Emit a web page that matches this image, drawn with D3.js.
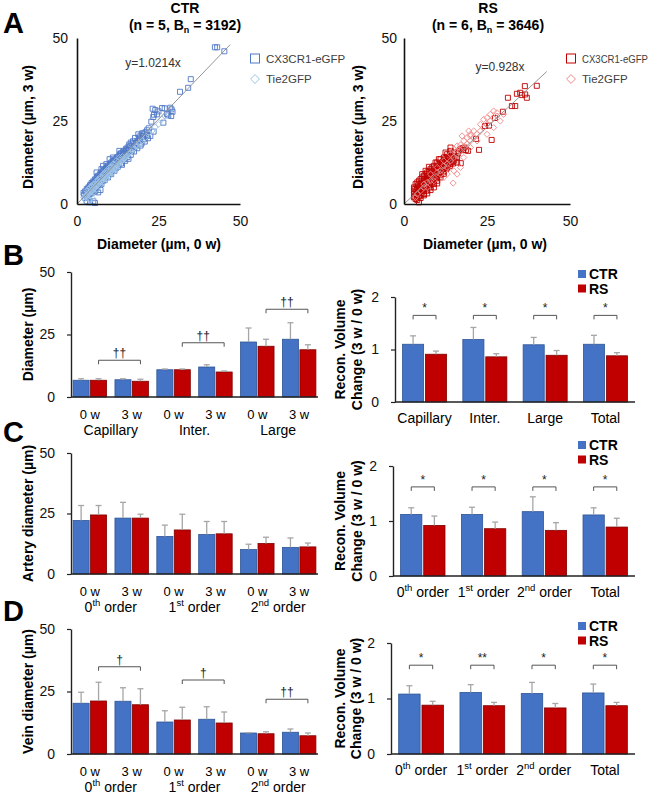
<!DOCTYPE html>
<html>
<head>
<meta charset="utf-8">
<script src="https://cdn.jsdelivr.net/npm/d3@7"></script>
<style>
  body { margin: 0; background: #fff; }
  svg { display: block; font-family: Arial, "Liberation Sans", sans-serif; }
</style>
</head>
<body>
<svg width="660" height="797"></svg>
<script>
// ---- data: panel A scatter, diameter [0 w, 3 w] in µm ----
const ctrCx3cr1 = [
  [42.3,47.2],[43.0,47.2],[45.2,46.0],[34.9,37.6],[34.1,35.0],[31.6,33.8],
  [23.2,28.7],[24.0,28.3],[25.0,27.9],[26.1,28.9],[26.9,28.8],[28.6,29.0],[29.0,28.5],[27.6,27.1],
  [28.0,26.7],[28.9,26.5],[29.3,27.8],[24.5,27.0],[23.6,26.9],[26.5,24.5],[22.8,24.8],[23.4,26.2],
  [22.0,22.8],[21.0,21.6],[20.0,21.3],[19.5,20.6],[18.8,21.0],[17.8,19.9],[17.2,18.9],[16.5,18.5],
  [16.0,17.9],[18.5,19.0],[20.5,19.5],[21.5,20.7],[19.8,18.2],[17.5,17.0],[15.5,17.0],[15.0,16.6],
  [14.5,16.0],[14.0,15.4],[13.5,15.3],[13.0,14.6],[16.8,16.0],[18.0,17.6],[22.5,20.5],[23.5,21.8],
  [12.5,14.2],[12.0,13.5],[11.5,13.4],[11.0,12.8],[10.5,12.5],[10.0,11.8],[9.5,11.5],[9.0,10.8],
  [8.5,10.4],[8.0,9.8],[7.5,9.5],[7.0,8.8],[6.5,8.5],[6.0,7.8],[5.5,7.4],[5.0,6.8],[4.5,6.3],
  [4.0,5.6],[3.5,5.0],[3.0,4.5],[2.5,3.8],[2.0,3.3],[12.8,12.0],[11.8,11.2],[10.8,10.2],[9.8,9.5],
  [8.8,8.3],[7.8,7.5],[6.8,6.2],[5.8,5.2],[4.8,4.5],[13.5,12.2],[14.5,13.5],[15.5,14.2],[16.5,14.8],
  [12.0,10.8],[10.0,9.0],[8.0,7.0],[7.0,5.8],[6.0,4.8],[5.5,3.8],[6.5,3.5],[7.2,4.2],[4.0,3.0],
  [3.0,2.5],[2.5,1.8],[3.0,0.8],[4.0,0.5],[5.0,0.8],[5.5,0.3],[9.0,12.0],[7.5,10.5],[6.0,9.5],
  [8.0,11.5],[11.0,14.0],[13.0,16.0],[10.0,13.5],
  [2.2,2.8],[2.8,3.6],[3.2,4.2],[3.8,4.9],[4.2,5.8],[4.8,6.0],[5.2,6.6],[5.8,7.2],[6.2,8.2],[6.8,8.0],
  [7.2,9.2],[7.8,9.0],[8.2,10.2],[8.8,10.0],[9.2,11.2],[9.8,11.0],[10.2,12.2],[10.8,12.0],[11.2,13.0],
  [11.8,12.6],[12.2,14.0],[12.8,13.4],[13.2,15.0],[13.8,14.6],[14.2,15.8],[14.8,15.2],[15.2,16.3],
  [15.8,16.2],[16.2,17.4],[17.0,18.2],[19.0,20.0],[20.2,20.5],[3.5,2.2],[4.5,3.3],[5.2,4.0],[6.2,5.5],
  [7.5,6.0],[8.5,7.2],[9.5,8.0],[10.5,9.0],[11.5,10.0],[12.5,11.2],[13.8,11.8],[14.8,13.0],[15.8,13.6],
  [17.5,15.8],[18.5,16.8],[19.5,17.6],[20.8,18.8],[21.8,19.8],[6.0,6.5],[7.0,7.2],[8.0,8.4],[9.0,9.2],
  [10.0,10.4],[11.0,11.4],[12.0,12.3],[13.0,13.3],[14.0,14.2],[15.0,15.4],[16.0,16.2],[18.0,18.4],
  [19.2,19.4],[20.5,21.2],[21.5,22.2]
];
const ctrTie2 = [
  [2,2],[2.5,2.2],[3,2.8],[3.5,3.0],[4,3.5],[4.5,4.0],[5,4.3],[5.5,5.0],[6,5.3],[6.5,5.8],[7,6.5],
  [7.5,6.8],[8,7.3],[8.5,7.8],[9,8.4],[9.5,8.7],[10,9.3],[10.5,9.8],[11,10.2],[11.5,10.6],[12,11.3],
  [12.5,11.8],[13,12.2],[13.5,12.8],[14,13.4],[14.5,13.6],[15,14.3],[15.5,14.8],[16,15.4],[17,16.5],
  [18,17.5],[19,18.2],[20,19.0],[21,20.0],[22,21.5],[23,22.0],[24,23.2],[25,24.0],[26,25.5],[27,26.5],
  [3,4],[4,5],[5,6],[6,7],[7,8],[8,9],[9,10],[10,11],[11,12],[12,13],[13,14],[4,2.5],[5,3.5],
  [6,4.5],[7,5.5],[8,6.5],[9,7.5],[10,8.5],[11,9.5],[12,10.5],[3.5,3.8],[5.5,6],[7.5,8],[9.5,10],
  [11.5,12],[4.5,5.2],[6.5,7.2],[8.5,9.2],[10.5,11.2],[4,1],[3,0.5],[5,1.5],
  [2.2,1.5],[2.8,2.3],[3.3,2.6],[3.8,3.2],[4.3,3.9],[4.8,4.2],[5.3,4.6],[5.8,5.4],[6.3,5.6],[6.8,6.2],
  [7.3,6.6],[7.8,7.1],[8.3,7.5],[8.8,8.2],[9.3,8.8],[9.8,9.0],[10.3,9.6],[10.8,10.4],[11.3,10.4],
  [11.8,11.0],[12.3,11.6],[12.8,12.0],[13.3,12.4],[13.8,13.0],[14.3,13.8],[14.8,14.0],[15.3,14.4],
  [15.8,15.2],[16.5,15.6],[17.5,16.8],[18.5,17.4],[19.5,18.6],[5,5.6],[6,6.4],[7,7.5],[8,8.3],[9,9.3],
  [10,10.3],[11,11.2],[12,12.2],[13,13.2],[14,14.3],[3.5,4.5],[4.5,5.5]
];
const rsCx3cr1 = [
  [36.4,35.5],[40.0,35.6],[34.0,33.2],[35.0,33.5],[35.5,32.8],[36.5,33.0],[37.0,32.0],[31.3,32.0],
  [32.5,29.5],[33.5,29.5],[29.8,27.8],[27.4,25.9],[24.4,23.5],[25.6,23.6],[26.4,19.3],[21.7,19.6],
  [22.6,16.3],[18.7,16.3],[19.3,16.0],[17.0,16.5],[17.6,16.8],[17.1,12.3],[16.5,16.0],
  [15,14.5],[14.5,13.5],[14,14],[13.5,12.5],[13,13],[12.5,12],[12,11],[11.5,12.5],[11,10.5],
  [10.5,11],[10,9.5],[9.5,10],[9,8.5],[8.5,9.5],[8,8],[7.5,7],[7,8],[6.5,6.5],[6,7],[5.5,5.5],
  [5,6],[4.5,4.5],[4,5],[3.5,3.5],[3,3],[4,2],[5,2.5],[3.5,1.5],[4.5,0.5],[6,4],[7,5],[8,6],[9,7],
  [10,8],[11,9],[12,10],[13,11],[14,12],[15,13],[5,7.5],[6,8.5],[7,9.5],[8,10.5],[9,11.5],[10,12.5],
  [11,13.5],[12,14],[13,15],[14,16],[4,6.5],[3,5],[3,4],[5,4],[6,5.5],[7,6],[8,7],[9,9],[10,10],
  [11,11],[12,12.5],[13,12],[6,3],[5,3.2],[4.5,2.5],[7,4],[8,5],[9,6],[10,7],[11,8],[12,9],[16,14],
  [15,15.5],[16,12.5],[3.5,6],[4.5,7],[5.5,8],[6.5,9],[7.5,10],[8.5,11],[9.5,12.5],[10.5,13.5],
  [12.5,15.5],[14,17],
  [3.2,2.2],[3.8,2.8],[4.2,3.6],[4.8,3.8],[5.2,4.6],[5.8,4.8],[6.2,5.8],[6.8,5.6],[7.2,6.6],[7.8,6.4],
  [8.2,7.4],[8.8,7.2],[9.2,8.2],[9.8,8.0],[10.2,9.0],[10.8,8.8],[11.2,9.8],[11.8,9.6],[12.2,10.8],
  [12.8,10.6],[13.2,11.8],[13.8,11.4],[14.2,12.6],[14.8,12.2],[3.2,4.6],[3.8,4.2],[4.2,5.6],[4.8,5.2],
  [5.2,6.4],[5.8,6.2],[6.2,7.4],[6.8,7.2],[7.2,8.4],[7.8,8.2],[8.2,9.2],[8.8,9.0],[9.2,10.4],[9.8,10.8],
  [10.2,11.6],[10.8,12.2],[11.2,11.8],[11.8,12.8],[12.2,13.2],[12.8,14.0],[13.2,14.2],[13.8,15.0],
  [3,2],[4,1.2],[5,1.8],[6,2.6],[7,3.2],[8,4.2],[9,5.0],[10,6.2],[5.5,9.0],[6.5,10.0],[7.5,11.2],
  [15.5,14.0],[16.2,15.2],[17.8,16.2],[18.2,17.0]
];
const rsTie2 = [
  [5,4],[6,5],[7,6.5],[8,7],[9,8],[10,9.5],[11,10],[12,11.5],[13,12],[14,13],[15,14],[16,15],[17,16],
  [18,17],[19,18],[20,19],[21,20],[22,21],[23,22],[24,23],[25,24],[26,25],[27,26],[28,26.5],[15,16.5],
  [16,17.5],[17,17.8],[18,19],[19,20],[20,21],[21,22],[17.5,20.5],[14,15],[19.5,22],[24,25.5],[14.8,6.3],
  [16,9],[15,10],[13,9],[12,8],[17,11],[18,14],[20,17],[22,19],[25,21],[27,23],[29,25],[28,27.5],
  [30,27],[23,24],[20,20.5],[6,6],[8,9],[10,11],[12,13],[4,3],[3.5,2],[7,5],[9,7],[11,9],[13,11],
  [26,27],[27,28],[25,26]
];
const ctrSlope = 1.0214;
const rsSlope = 0.928;

// ---- data: bar charts ----
const series = ["CTR", "RS"];
const weeks = ["0 w", "3 w"];
const vesselCats = ["Capillary", "Inter.", "Large"];
const orderCats = ["0th order", "1st order", "2nd order"];
const volVesselCats = ["Capillary", "Inter.", "Large", "Total"];
const volOrderCats = ["0th order", "1st order", "2nd order", "Total"];

// B: diameter, groups = cap 0w, cap 3w, inter 0w, inter 3w, large 0w, large 3w
const diamCtr = [6.7, 6.9, 10.9, 12.0, 22.0, 23.1];
const diamCtrSd = [0.6, 0.4, 0.3, 0.9, 5.6, 6.6];
const diamRs = [6.7, 6.3, 10.9, 10.0, 20.3, 18.9];
const diamRsSd = [0.6, 0.8, 0.3, 0.4, 2.8, 2.0];
const volBCtr = [1.10, 1.19, 1.09, 1.10];
const volBCtrSd = [0.16, 0.23, 0.14, 0.17];
const volBRs = [0.91, 0.86, 0.89, 0.88];
const volBRsSd = [0.06, 0.06, 0.09, 0.06];

// C: artery
const arteryCtr = [22.1, 23.1, 15.5, 16.3, 10.1, 11.0];
const arteryCtrSd = [6.2, 6.5, 4.7, 5.4, 2.2, 3.9];
const arteryRs = [24.4, 23.1, 18.2, 16.6, 12.6, 11.2];
const arteryRsSd = [3.9, 1.6, 6.5, 5.1, 2.6, 1.6];
const volCCtr = [1.12, 1.12, 1.17, 1.11];
const volCCtrSd = [0.12, 0.13, 0.27, 0.13];
const volCRs = [0.92, 0.86, 0.83, 0.89];
const volCRsSd = [0.17, 0.12, 0.14, 0.16];

// D: vein
const veinCtr = [20.3, 21.1, 12.8, 13.9, 8.4, 8.7];
const veinCtrSd = [4.4, 5.4, 4.5, 5.0, 0.1, 1.3];
const veinRs = [21.2, 19.7, 13.6, 12.4, 8.1, 7.3];
const veinRsSd = [7.5, 6.4, 5.1, 4.4, 0.8, 1.1];
const volDCtr = [1.08, 1.11, 1.09, 1.10];
const volDCtrSd = [0.15, 0.14, 0.20, 0.16];
const volDRs = [0.88, 0.87, 0.83, 0.87];
const volDRsSd = [0.07, 0.06, 0.08, 0.06];

// significance brackets (left: RS 0 w vs RS 3 w; right: CTR vs RS)
const diamMarks = [{ from: 0, to: 1, at: 14.7, label: "††" }, { from: 2, to: 3, at: 21.7, label: "††" }, { from: 4, to: 5, at: 35.1, label: "††" }];
const veinMarks = [{ from: 0, to: 1, at: 34.9, label: "†" }, { from: 2, to: 3, at: 29.6, label: "†" }, { from: 4, to: 5, at: 21.9, label: "††" }];
const volBMarks = [{ at: 1.65, label: "*" }, { at: 1.65, label: "*" }, { at: 1.65, label: "*" }, { at: 1.65, label: "*" }];
const volCMarks = [{ at: 1.62, label: "*" }, { at: 1.62, label: "*" }, { at: 1.62, label: "*" }, { at: 1.62, label: "*" }];
const volDMarks = [{ at: 1.60, label: "*" }, { at: 1.60, label: "**" }, { at: 1.60, label: "*" }, { at: 1.60, label: "*" }];

// ---- drawing ----
const svg = d3.select("svg");
const blue = "#4472C4", blueDark = "#2F5597";
const red = "#C00000", redDark = "#7F0000";
const diamondType = d3.symbolDiamond2 || d3.symbolDiamond;

function supLabel(sel, str, fs) {
  const m = str.match(/^(\d)(st|nd|rd|th)(.*)$/);
  if (!m) { sel.text(str); return; }
  const up = fs * 0.38;
  sel.append("tspan").text(m[1]);
  sel.append("tspan").attr("font-size", fs * 0.68).attr("dy", -up).text(m[2]);
  sel.append("tspan").attr("dy", up).text(m[3]);
}

function panelLetter(t, x, y) {
  svg.append("text").attr("x", x).attr("y", y).attr("font-size", 29).attr("font-weight", "bold").text(t);
}

function scatter(o) {
  const x = d3.scaleLinear([0, 50], [o.x0, o.x1]);
  const y = d3.scaleLinear([0, 50], [o.y0, o.y1]);
  const g = svg.append("g");

  g.selectAll("path.sq").data(o.squares).join("path")
    .attr("transform", d => `translate(${x(d[0])},${y(d[1])})`)
    .attr("d", d3.symbol(d3.symbolSquare, 25))
    .attr("fill", "none").attr("stroke", o.sqColor).attr("stroke-width", 0.9);
  g.selectAll("path.dm").data(o.diamonds).join("path")
    .attr("transform", d => `translate(${x(d[0])},${y(d[1])})`)
    .attr("d", d3.symbol(diamondType, 24))
    .attr("fill", "none").attr("stroke", o.dmColor).attr("stroke-width", 0.9);

  g.append("line")
    .attr("x1", x(0)).attr("y1", y(0))
    .attr("x2", x(o.lineEnd)).attr("y2", y(o.slope * o.lineEnd))
    .attr("stroke", "#8a8a8a").attr("stroke-width", 0.9);

  const ya = g.append("g").attr("transform", `translate(${o.x0},0)`)
    .call(d3.axisLeft(y).tickValues([0, 25, 50]).tickSize(0).tickPadding(o.yPad));
  const xa = g.append("g").attr("transform", `translate(0,${o.y0})`)
    .call(d3.axisBottom(x).tickValues([0, 25, 50]).tickSize(0).tickPadding(12));
  [ya, xa].forEach(a => {
    a.select(".domain").attr("stroke", "#111").attr("stroke-width", 1.6);
    a.selectAll("text").attr("font-size", 14).attr("font-family", null).attr("fill", "#111");
  });

  g.append("text").attr("x", o.eqX).attr("y", o.eqY).attr("font-size", 12)
    .attr("text-anchor", "middle").attr("fill", "#333").text(o.eq);

  // titles
  g.append("text").attr("x", o.titleX).attr("y", 13).attr("text-anchor", "middle")
    .attr("font-size", 14).attr("font-weight", "bold").text(o.title);
  const st = g.append("text").attr("x", o.titleX).attr("y", 30).attr("text-anchor", "middle")
    .attr("font-size", 14).attr("font-weight", "bold");
  st.append("tspan").text(`(n = ${o.n}, B`);
  st.append("tspan").attr("font-size", 9).attr("dy", 3).text("n");
  st.append("tspan").attr("dy", -3).text(` = ${o.bn})`);

  g.append("text").attr("transform", `translate(${o.yTitleX},${o.yTitleY}) rotate(-90)`)
    .attr("text-anchor", "middle").attr("dy", "0.35em")
    .attr("font-size", 14).attr("font-weight", "bold").text("Diameter (µm, 3 w)");
  g.append("text").attr("x", o.xTitleX).attr("y", 249).attr("text-anchor", "middle")
    .attr("font-size", 14).attr("font-weight", "bold").text("Diameter (µm, 0 w)");

  // legend
  const lg = g.append("g").attr("transform", `translate(${o.legX},0)`);
  lg.append("rect").attr("x", -4.5).attr("y", 54).attr("width", 9).attr("height", 9)
    .attr("fill", "none").attr("stroke", o.sqColor);
  lg.append("path").attr("transform", "translate(0,79)").attr("d", d3.symbol(diamondType, 50))
    .attr("fill", "none").attr("stroke", o.dmColor);
  const t1 = lg.append("text").attr("x", 11).attr("y", 58.5).attr("dy", "0.35em").attr("font-size", 11.5)
    .attr("fill", "#404040").text("CX3CR1-eGFP");
  if (o.legLen) t1.attr("textLength", o.legLen).attr("lengthAdjust", "spacingAndGlyphs");
  lg.append("text").attr("x", 11).attr("y", 79).attr("dy", "0.35em").attr("font-size", 11.5)
    .attr("fill", "#404040").text("Tie2GFP");
}

function bars(o) {
  const y = d3.scaleLinear([0, o.max], [o.bottom, o.top]);
  const n = o.ctr.length;
  const x0 = d3.scaleBand(d3.range(n), [o.left, o.right]).paddingInner(o.pi).paddingOuter(o.po);
  const x1 = d3.scaleBand(series, [0, x0.bandwidth()]).paddingInner(0.08);
  const g = svg.append("g");
  const rows = d3.range(n).flatMap(i => [
    { i, s: "CTR", v: o.ctr[i], sd: o.ctrSd[i] },
    { i, s: "RS", v: o.rs[i], sd: o.rsSd[i] }
  ]);
  const cx = d => x0(d.i) + x1(d.s) + x1.bandwidth() / 2;

  g.selectAll("rect").data(rows).join("rect")
    .attr("x", d => x0(d.i) + x1(d.s)).attr("width", x1.bandwidth())
    .attr("y", d => y(d.v)).attr("height", d => y(0) - y(d.v))
    .attr("fill", d => d.s === "CTR" ? blue : red)
    .attr("stroke", d => d.s === "CTR" ? blueDark : redDark).attr("stroke-width", 0.8);

  const eb = g.selectAll("g.err").data(rows).join("g").attr("stroke", "#a6a6a6").attr("stroke-width", 1.3);
  eb.append("line").attr("x1", cx).attr("x2", cx).attr("y1", d => y(d.v)).attr("y2", d => y(d.v + d.sd));
  eb.append("line").attr("x1", d => cx(d) - 3).attr("x2", d => cx(d) + 3)
    .attr("y1", d => y(d.v + d.sd)).attr("y2", d => y(d.v + d.sd));

  // axes
  const ya = g.append("g").attr("transform", `translate(${o.left},0)`)
    .call(d3.axisLeft(y).tickValues([0, o.max / 2, o.max]).tickFormat(d3.format("d"))
      .tickSize(4).tickSizeOuter(0).tickPadding(12));
  ya.select(".domain").attr("stroke", "#222").attr("stroke-width", 1.4);
  ya.selectAll("line").attr("stroke", "#222").attr("stroke-width", 1.2);
  ya.selectAll("text").attr("font-size", 14).attr("font-family", null).attr("fill", "#111");
  g.append("line").attr("x1", o.left).attr("x2", o.right).attr("y1", y(0)).attr("y2", y(0))
    .attr("stroke", "#222").attr("stroke-width", 1.4);

  // brackets
  const bk = g.append("g").attr("stroke", "#555").attr("stroke-width", 1).attr("fill", "none");
  o.marks.forEach((m, k) => {
    const xa = m.from !== undefined ? cx({ i: m.from, s: "RS" }) : cx({ i: k, s: "CTR" });
    const xb = m.from !== undefined ? cx({ i: m.to, s: "RS" }) : cx({ i: k, s: "RS" });
    const yy = y(m.at);
    bk.append("path").attr("d", `M${xa},${yy + 4}V${yy}H${xb}V${yy + 4}`);
    g.append("text").attr("x", (xa + xb) / 2).attr("y", yy - 3).attr("text-anchor", "middle")
      .attr("font-size", 12).attr("fill", "#222").text(m.label);
  });

  // x labels
  if (o.weekRow) {
    g.selectAll("text.wk").data(d3.range(n)).join("text")
      .attr("x", i => x0(i) + x0.bandwidth() / 2).attr("y", y(0) + 21.5)
      .attr("text-anchor", "middle").attr("font-size", 13).text(i => weeks[i % 2]);
    o.cats.forEach((c, k) => {
      const xm = (x0(2 * k) + x0(2 * k + 1) + x0.bandwidth()) / 2;
      const t = g.append("text").attr("x", xm).attr("y", y(0) + 37.5)
        .attr("text-anchor", "middle").attr("font-size", 14);
      supLabel(t, c, 14);
    });
  } else {
    o.cats.forEach((c, k) => {
      const t = g.append("text").attr("x", x0(k) + x0.bandwidth() / 2).attr("y", y(0) + 20.5)
        .attr("text-anchor", "middle").attr("font-size", 14);
      supLabel(t, c, 14);
    });
  }

  // y title
  const midY = (o.top + o.bottom) / 2;
  o.yTitle.forEach((line, k) => {
    g.append("text").attr("transform", `translate(${o.yTitleX[k]},${midY}) rotate(-90)`)
      .attr("text-anchor", "middle").attr("dy", "0.35em")
      .attr("font-size", 14).attr("font-weight", "bold").text(line);
  });

  // legend
  if (o.legendY !== undefined) {
    series.forEach((s, k) => {
      const ly = o.legendY + k * 14.5;
      g.append("rect").attr("x", 578).attr("y", ly - 4).attr("width", 8).attr("height", 8)
        .attr("fill", s === "CTR" ? blue : red);
      g.append("text").attr("x", 589).attr("y", ly).attr("dy", "0.36em")
        .attr("font-size", 14).attr("font-weight", "bold").text(s);
    });
  }
}

// panel A
panelLetter("A", 3, 33);
scatter({ x0: 77, x1: 240, y0: 204, y1: 38, squares: ctrCx3cr1, diamonds: ctrTie2,
  sqColor: "#4f78c6", dmColor: "#9dc3e6", slope: ctrSlope, lineEnd: 47, yPad: 9,
  eq: "y=1.0214x", eqX: 153, eqY: 67, title: "CTR", n: 5, bn: 3192, titleX: 185,
  yTitleX: 28, yTitleY: 127, xTitleX: 159, legX: 255 });
scatter({ x0: 404, x1: 570, y0: 204, y1: 38, squares: rsCx3cr1, diamonds: rsTie2,
  sqColor: "#c00000", dmColor: "#f08a8a", slope: rsSlope, lineEnd: 43, yPad: 7,
  eq: "y=0.928x", eqX: 500, eqY: 71, title: "RS", n: 6, bn: 3646, titleX: 488,
  yTitleX: 358, yTitleY: 127, xTitleX: 485, legX: 571, legLen: 66 });

// panel B
panelLetter("B", 3, 265);
bars({ left: 71, right: 318, top: 272, bottom: 397, max: 50, pi: 0.2, po: 0.05,
  ctr: diamCtr, ctrSd: diamCtrSd, rs: diamRs, rsSd: diamRsSd, marks: diamMarks,
  weekRow: true, cats: vesselCats, yTitle: ["Diameter (µm)"], yTitleX: [28] });
bars({ left: 395, right: 635, top: 297, bottom: 402, max: 2, pi: 0.27, po: 0.125,
  ctr: volBCtr, ctrSd: volBCtrSd, rs: volBRs, rsSd: volBRsSd, marks: volBMarks,
  cats: volVesselCats, yTitle: ["Recon. Volume", "Change (3 w / 0 w)"], yTitleX: [340, 357], legendY: 274 });

// panel C
panelLetter("C", 3, 442);
bars({ left: 71, right: 318, top: 453, bottom: 574, max: 50, pi: 0.2, po: 0.05,
  ctr: arteryCtr, ctrSd: arteryCtrSd, rs: arteryRs, rsSd: arteryRsSd, marks: [],
  weekRow: true, cats: orderCats, yTitle: ["Artery diameter (µm)"], yTitleX: [28] });
bars({ left: 393, right: 635, top: 466, bottom: 576, max: 2, pi: 0.27, po: 0.125,
  ctr: volCCtr, ctrSd: volCCtrSd, rs: volCRs, rsSd: volCRsSd, marks: volCMarks,
  cats: volOrderCats, yTitle: ["Recon. Volume", "Change (3 w / 0 w)"], yTitleX: [340, 357], legendY: 445 });

// panel D
panelLetter("D", 3, 621);
bars({ left: 71, right: 318, top: 629, bottom: 754, max: 50, pi: 0.2, po: 0.05,
  ctr: veinCtr, ctrSd: veinCtrSd, rs: veinRs, rsSd: veinRsSd, marks: veinMarks,
  weekRow: true, cats: orderCats, yTitle: ["Vein diameter (µm)"], yTitleX: [28] });
bars({ left: 391, right: 635, top: 643, bottom: 754, max: 2, pi: 0.27, po: 0.125,
  ctr: volDCtr, ctrSd: volDCtrSd, rs: volDRs, rsSd: volDRsSd, marks: volDMarks,
  cats: volOrderCats, yTitle: ["Recon. Volume", "Change (3 w / 0 w)"], yTitleX: [340, 356], legendY: 626 });
</script>
</body>
</html>
